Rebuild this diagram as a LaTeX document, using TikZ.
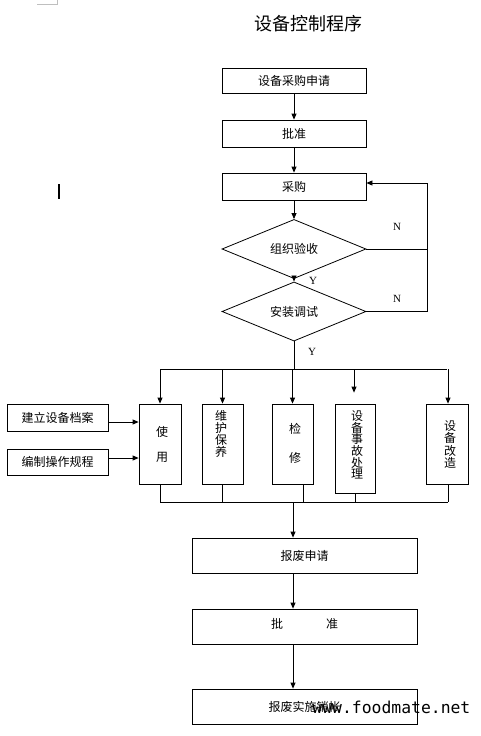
\documentclass[tikz,border=0pt]{standalone}
\usepackage{fontspec}
\newfontfamily\cjk{Noto Sans CJK SC}
\newfontfamily\serifen{Liberation Serif}
\newfontfamily\monowm{DejaVu Sans Mono}
\usetikzlibrary{shapes.geometric,arrows.meta}
\begin{document}
\begin{tikzpicture}[x=1pt,y=-1pt,line width=0.8pt,
  box/.style={draw,rectangle,inner sep=0pt,font=\cjk\fontsize{12}{12}\selectfont},
  dia/.style={draw,diamond,inner sep=0pt,minimum width=144pt,minimum height=44pt,font=\cjk\fontsize{12}{12}\selectfont},
  arr/.style={-{Triangle[width=5pt,length=6pt]}},
  vlab/.style={align=center,inner sep=0pt,font=\cjk\fontsize{12}{12}\selectfont},
  yn/.style={inner sep=0pt,font=\serifen\fontsize{11}{11}\selectfont}]
\useasboundingbox (0,0) rectangle (480,736);
% page artefacts
\draw[gray!50,line width=0.6pt] (37,4) -- (57,4) -- (57,0);
\fill (58,184) rectangle (60,199);
% title
\node[inner sep=0pt,font=\cjk\fontsize{18}{18}\selectfont] (title) at (308,24) {设备控制程序};
% main chain
\node[box,minimum width=144pt,minimum height=25pt] (b1) at (294,80.5) {设备采购申请};
\node[box,minimum width=144pt,minimum height=27pt] (b2) at (294,133.5) {批准};
\node[box,minimum width=144pt,minimum height=27pt] (b3) at (294,186.5) {采购};
\node[dia] (d1) at (294,249) {组织验收};
\node[dia,minimum height=43pt] (d2) at (294,311.5) {安装调试};
\draw[arr] (b1) -- (b2);
\draw[arr] (b2) -- (b3);
\draw[arr] (b3) -- (d1);
\draw[arr] (d1) -- (d2);
% feedback
\coordinate (fbtop) at (427,183);
\draw (d1.east) -- (d1.east -| fbtop);
\draw (d2.east) -| (fbtop);
\draw[arr] (fbtop) -- (fbtop -| b3.east);
\node[yn] (n1) at (397,227) {N};
\node[yn] (n2) at (397,299) {N};
\node[yn] (y1) at (313,281) {Y};
\node[yn] (y2) at (312,352) {Y};
% distribution
\coordinate (bus) at (294,369);
\node[box,minimum width=42pt,minimum height=80pt] (u1) at (160,444) {};
\node[box,minimum width=41pt,minimum height=80pt] (u2) at (222.5,444) {};
\node[box,minimum width=41pt,minimum height=80pt] (u3) at (292.5,444) {};
\node[box,minimum width=40pt,minimum height=89pt] (u4) at (355,448.5) {};
\node[box,minimum width=42pt,minimum height=80pt] (u5) at (447,444) {};
\node[vlab] (t1) at (162,444.5) {使\\[13pt]用};
\node[vlab] (t2) at (221,433.5) {维\\护\\保\\养};
\node[vlab] (t3) at (295,443.5) {检\\[17pt]修};
\node[vlab,font=\cjk\fontsize{12}{11.6}\selectfont] (t4) at (357,445) {设\\备\\事\\故\\处\\理};
\node[vlab,font=\cjk\fontsize{12}{11}\selectfont] (t5) at (450,444.5) {设\\备\\改\\造};
\draw (d2.south) -- (bus);
\draw (u1.north |- bus) -- (u5.north |- bus);
\draw[arr] (u1.north |- bus) -- (u1.north);
\draw[arr] (u2.north |- bus) -- (u2.north);
\draw[arr] (u3.north |- bus) -- (u3.north);
\draw[arr] ([xshift=-1pt]u4.north |- bus) -- ([xshift=-1pt,yshift=11pt]u4.north);
\draw[arr] ([xshift=1pt]u5.north |- bus) -- ([xshift=1pt]u5.north);
% left inputs
\node[box,minimum width=101pt,minimum height=27pt] (l1) at (57.5,417.5) {建立设备档案};
\node[box,minimum width=101pt,minimum height=26pt] (l2) at (57.5,462) {编制操作规程};
\draw[arr] ([yshift=-4.5pt]l1.east) -- ([yshift=-4.5pt]l1.east -| u1.west);
\draw[arr] ([yshift=4pt]l2.east) -- ([yshift=4pt]l2.east -| u1.west);
% collecting
\coordinate (bb) at (293,502);
\draw (u1.south) -- (u1.south |- bb);
\draw (u2.south) -- (u2.south |- bb);
\draw ([xshift=10.5pt]u3.south) -- ([xshift=10.5pt]u3.south |- bb);
\draw (u4.south) -- (u4.south |- bb);
\draw ([xshift=1pt]u5.south) -- ([xshift=1pt]u5.south |- bb);
\draw (u1.south |- bb) -- ([xshift=1pt]u5.south |- bb);
% scrapping
\node[box,minimum width=225pt,minimum height=35pt] (r1) at (304.5,555.5) {报废申请};
\node[box,minimum width=225pt,minimum height=35pt] (r2) at (304.5,626.5) {};
\node[inner sep=0pt,font=\cjk\fontsize{12}{12}\selectfont] (r2a) at (277,624) {批};
\node[inner sep=0pt,font=\cjk\fontsize{12}{12}\selectfont] (r2b) at (332,624) {准};
\node[box,minimum width=225pt,minimum height=35pt] (r3) at (304.5,706.5) {报废实施销帐};
\draw[arr] (bb) -- (bb |- r1.north);
\draw[arr] (bb |- r1.south) -- (bb |- r2.north);
\draw[arr] (bb |- r2.south) -- (bb |- r3.north);
% watermark
\node[inner sep=0pt,anchor=west,font=\monowm\fontsize{16.4}{16.4}\selectfont] (wm) at (312,707) {www.foodmate.net};
\end{tikzpicture}
\end{document}
